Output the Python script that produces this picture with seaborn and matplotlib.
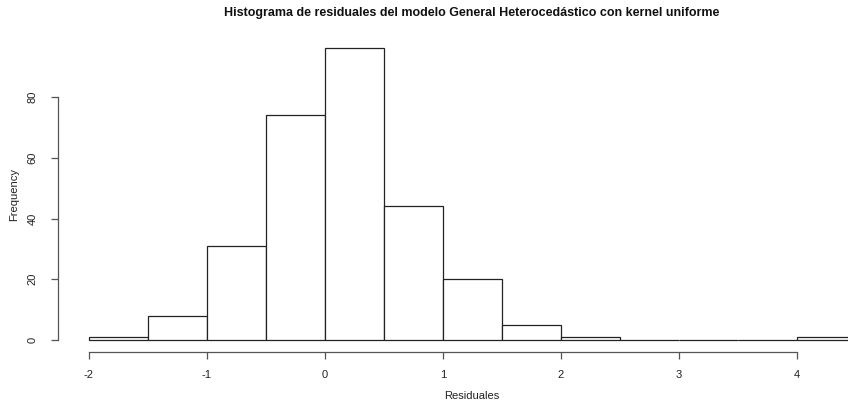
import matplotlib
matplotlib.use("Agg")
import matplotlib.pyplot as plt
import seaborn as sns
import numpy as np

# Histogram bins of the residuals and their frequencies
bin_edges = [-2.0, -1.5, -1.0, -0.5, 0.0, 0.5, 1.0, 1.5, 2.0, 2.5, 3.0, 3.5, 4.0, 4.5]
counts = [1, 8, 31, 74, 96, 44, 20, 5, 1, 0, 0, 0, 1]
x_ticks = [-2, -1, 0, 1, 2, 3, 4]
y_ticks = [0, 20, 40, 60, 80]

title = "Histograma de residuales del modelo General Heterocedástico con kernel uniforme"
x_label = "Residuales"
y_label = "Frequency"

sns.set_style("white")
plt.rcParams["font.family"] = ["Liberation Sans", "DejaVu Sans"]

W, H = 848, 407
fig = plt.figure(figsize=(W / 100, H / 100), dpi=100)
# Plot region in pixels (R-style 4% padding on both axes)
left_px, right_px, top_px, bottom_px = 58.3, 886.7, 36.7, 351.7
ax = fig.add_axes([left_px / W, 1 - bottom_px / H,
                   (right_px - left_px) / W, (bottom_px - top_px) / H])

mids = [(a + b) / 2 for a, b in zip(bin_edges[:-1], bin_edges[1:])]
sns.histplot(x=mids, weights=counts, bins=bin_edges, ax=ax,
             color="white", edgecolor="#222222", linewidth=0.9, alpha=1.0)

lo, hi = bin_edges[0], bin_edges[-1]
pad = (hi - lo) * 0.04
ax.set_xlim(lo - pad, hi + pad)
ymax = max(counts)
ax.set_ylim(-ymax * 0.04, ymax * 1.04)

for s in ["top", "right"]:
    ax.spines[s].set_visible(False)
ax.spines["left"].set_bounds(y_ticks[0], y_ticks[-1])
ax.spines["bottom"].set_bounds(x_ticks[0], x_ticks[-1])
for s in ["left", "bottom"]:
    ax.spines[s].set_color("#555555")
    ax.spines[s].set_linewidth(0.9)

ax.set_xticks(x_ticks)
ax.set_xticklabels([str(t) for t in x_ticks])
ax.set_yticks(y_ticks)
ax.set_yticklabels([str(t) for t in y_ticks], rotation=90, va="center")
ax.tick_params(axis="both", direction="out", length=5, width=0.9,
               color="#555555", labelsize=8, labelcolor="#222222")
ax.tick_params(axis="x", pad=8, bottom=True)
ax.tick_params(axis="y", pad=10, left=True)
ax.set_xlabel("")
ax.set_ylabel("")

fig.text(472 / W, 1 - 13 / H, title, ha="center", va="center",
         fontsize=9, fontweight="bold", color="#111111")
fig.text(472 / W, 1 - 396 / H, x_label, ha="center", va="center",
         fontsize=8, color="#222222")
fig.text(14 / W, 1 - 194 / H, y_label, ha="center", va="center",
         fontsize=8, color="#222222", rotation=90)

fig.savefig("out.png", dpi=100, facecolor="white")
